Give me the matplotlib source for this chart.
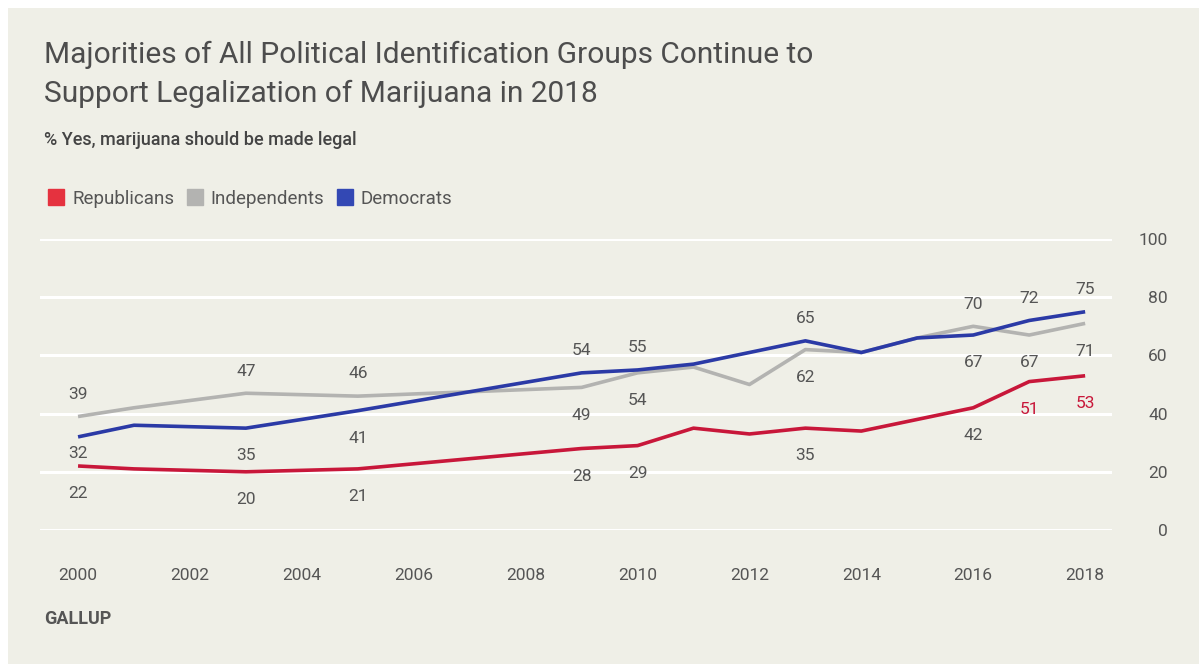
import numpy as np
import matplotlib
matplotlib.use('Agg')
import matplotlib.pyplot as plt
from matplotlib.lines import Line2D
from matplotlib.patches import Rectangle

plt.rcParams['font.family'] = ['Roboto', 'DejaVu Sans']

# data (Gallup, % yes marijuana should be legal)
years = [2000, 2001, 2003, 2005, 2009, 2010, 2011, 2012, 2013, 2014, 2015, 2016, 2017, 2018]
republicans = [22, 21, 20, 21, 28, 29, 35, 33, 35, 34, 38, 42, 51, 53]
independents = [39, 42, 47, 46, 49, 54, 56, 50, 62, 61, 66, 70, 67, 71]
democrats = [32, 36, 35, 41, 54, 55, 57, 61, 65, 61, 66, 67, 72, 75]
label_years = [2000, 2003, 2005, 2009, 2010, 2013, 2016, 2017, 2018]
xticks = list(range(2000, 2019, 2))
yticks = [0, 20, 40, 60, 80, 100]

c_rep = '#c8173a'
c_ind = '#b3b3b1'
c_dem = '#2b3aa6'
bg = '#efefe7'
txt = '#555555'

fig = plt.figure(figsize=(11.99, 6.64), dpi=100, facecolor='white')
fig.patches.append(Rectangle((8/1199, 0), 1, 656/664, transform=fig.transFigure,
                             facecolor=bg, edgecolor='none', zorder=-10))

ax = fig.add_axes([40/1199, (664-530)/664, 1072/1199, 291/664])
ax.set_facecolor('none')
ax.set_xlim(1999.32, 2018.48)
ax.set_ylim(0, 100)
for y in yticks:
    ax.axhline(y, color='white', lw=2.2, zorder=0)

series = [('Independents', independents, c_ind),
          ('Republicans', republicans, c_rep),
          ('Democrats', democrats, c_dem)]
for name, vals, col in series:
    ax.plot(years, vals, color=col, lw=2.6, solid_capstyle='butt', zorder=2)

# value labels: top series above the line, others below
for yr in label_years:
    i = years.index(yr)
    vals = {n: v[i] for n, v, c in series}
    top = max(vals, key=vals.get)
    for n, v in vals.items():
        off = 16 if n == top else -20
        if yr == 2000 and n == 'Democrats':
            off = -12
        col = c_rep if (n == 'Republicans' and yr >= 2017) else txt
        ax.annotate(str(v), (yr, v), xytext=(0, off), textcoords='offset points',
                    ha='center', va='center', fontsize=12.5, color=col)

ax.set_xticks(xticks)
ax.set_yticks(yticks)
ax.yaxis.tick_right()
ax.tick_params(axis='both', length=0, labelsize=12.5, labelcolor=txt)
ax.tick_params(axis='x', pad=27)
ax.tick_params(axis='y', pad=40)
for t in ax.get_yticklabels():
    t.set_horizontalalignment('right')
for s in ax.spines.values():
    s.set_visible(False)

fig.text(44/1199, 1 - 55/664, 'Majorities of All Political Identification Groups Continue to',
         fontsize=21.5, color='#4d4d4d', va='center', ha='left')
fig.text(44/1199, 1 - 94/664, 'Support Legalization of Marijuana in 2018',
         fontsize=21.5, color='#4d4d4d', va='center', ha='left')
fig.text(44/1199, 1 - 140/664, '% Yes, marijuana should be made legal',
         fontsize=13, color='#444444', va='center', ha='left', fontweight='medium')
fig.text(44/1199, 1 - 619/664, 'GALLUP', fontsize=13, color=txt, va='center',
         ha='left', fontweight='bold')

handles = [Line2D([], [], marker='s', ls='none', markersize=12, color=c)
           for c in ['#e5323f', '#b3b3b1', '#3348b4']]
fig.legend(handles, ['Republicans', 'Independents', 'Democrats'], ncol=3,
           loc='center left', bbox_to_anchor=(30/1199, 1 - 199/664), frameon=False,
           fontsize=13.5, labelcolor=txt, handletextpad=0.35, columnspacing=0.6,
           handlelength=1.0)

fig.savefig('out.png', dpi=100, facecolor=fig.get_facecolor())
